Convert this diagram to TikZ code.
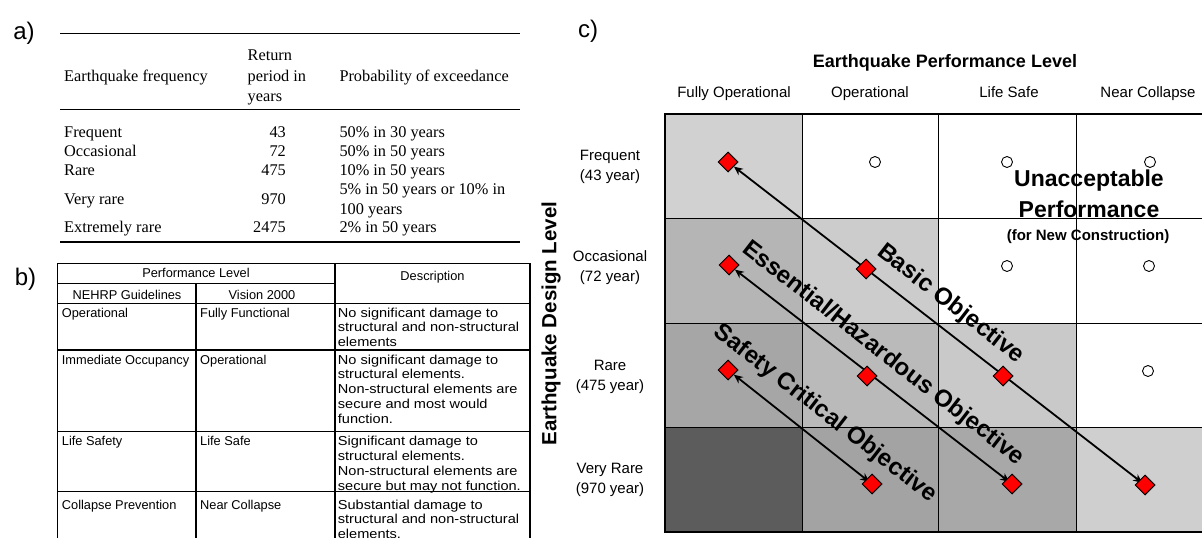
\documentclass[tikz,border=0pt]{standalone}
\usepackage{fontspec}
\setmainfont{Liberation Serif}
\newfontfamily\sansf{Liberation Sans}
\newfontfamily\descfont{Liberation Sans}[FakeStretch=1.12]
\usetikzlibrary{arrows.meta,shapes.geometric}
\pgfdeclarelayer{front}
\pgfsetlayers{main,front}
\begin{document}
\begin{tikzpicture}[x=1pt,y=-1pt,
  panel/.style={font=\sansf\fontsize{24}{26}\selectfont, inner sep=0},
  ta/.style={font=\fontsize{16.3}{19}\selectfont, inner sep=0, anchor=base west},
  tanum/.style={font=\fontsize{16.3}{19}\selectfont, inner sep=0, anchor=base east},
  tb/.style={font=\sansf\fontsize{12.8}{14.8}\selectfont, inner sep=0, anchor=base west},
  tbc/.style={font=\sansf\fontsize{12.8}{14.8}\selectfont, inner sep=0, anchor=base},
  tbd/.style={font=\descfont\fontsize{13}{14.8}\selectfont, inner sep=0, anchor=base west},
  rule/.style={line width=1.6pt},
  grid/.style={line width=0.9pt},
  colhead/.style={font=\sansf\fontsize{15}{18}\selectfont, inner sep=0, anchor=base},
  rowhead/.style={font=\sansf\fontsize{15}{20}\selectfont, inner sep=0, align=center},
  bigbold/.style={font=\sansf\bfseries\fontsize{23}{31}\selectfont, inner sep=0, align=center},
  objlbl/.style={font=\sansf\bfseries\fontsize{24}{26}\selectfont, inner sep=0, rotate=-37.8},
  diam/.style={diamond, draw=black, fill=red, line width=1pt, minimum width=20pt, minimum height=20pt, inner sep=0},
  circ/.style={circle, draw=black, line width=0.9pt, minimum size=11pt, inner sep=0},
  obj/.style={line width=1.8pt, shorten >=-4pt, {Stealth[length=9pt,width=8pt]}-{Stealth[length=9pt,width=8pt]}}
]
\clip (0,0) rectangle (1202,538);
\fill[white] (0,0) rectangle (1202,538);

% ---------------- panel a ----------------
\node[panel] (la) at (24,33) {a)};
\draw[rule] (60,33.5) -- (520,33.5);
\draw[line width=1pt] (60,109.3) -- (520,109.3);
\draw[rule] (60,241.8) -- (520,241.8);
\node[ta] (ha1) at (64,81) {Earthquake frequency};
\node[ta] (ha2) at (247.5,60.7) {Return};
\node[ta] (ha3) at (247.5,81) {period in};
\node[ta] (ha4) at (247.5,101) {years};
\node[ta] (ha5) at (339.3,81) {Probability of exceedance};
\node[ta] (fa1) at (64,137.5) {Frequent};
\node[ta] (fa2) at (64,156) {Occasional};
\node[ta] (fa3) at (64,175.3) {Rare};
\node[ta] (fa4) at (64,204.3) {Very rare};
\node[ta] (fa5) at (64,232.7) {Extremely rare};
\node[tanum] (na1) at (286,137.5) {43};
\node[tanum] (na2) at (286,156) {72};
\node[tanum] (na3) at (286,175.3) {475};
\node[tanum] (na4) at (286,204.3) {970};
\node[tanum] (na5) at (286,232.7) {2475};
\node[ta] (pa1) at (339.3,137.5) {50\% in 30 years};
\node[ta] (pa2) at (339.3,156) {50\% in 50 years};
\node[ta] (pa3) at (339.3,175.3) {10\% in 50 years};
\node[ta] (pa4) at (339.3,194) {5\% in 50 years or 10\% in};
\node[ta] (pa4b) at (339.3,214) {100 years};
\node[ta] (pa5) at (339.3,232.7) {2\% in 50 years};

% ---------------- panel b ----------------
\node[panel] (lb) at (25.5,279) {b)};
\draw[line width=1.3pt] (57.3,560) -- (57.3,263.3) -- (530,263.3) -- (530,560);
\draw[line width=1pt] (57.3,283.3) -- (335,283.3);
\draw[line width=1.2pt] (57.3,303.3) -- (530,303.3);
\draw[line width=1.2pt] (57.3,350) -- (530,350);
\draw[line width=1.2pt] (57.3,431.7) -- (530,431.7);
\draw[line width=1.2pt] (57.3,491.7) -- (530,491.7);
\draw[line width=1.3pt] (196,283.3) -- (196,560);
\draw[line width=1.3pt] (335,263.3) -- (335,560);
\node[tbc] (hb1) at (196,277.7) {Performance Level};
\node[tbc] (hb2) at (127,299) {NEHRP Guidelines};
\node[tbc] (hb3) at (262,299) {Vision 2000};
\node[tbc] (hb4) at (432.5,280) {Description};
\node[tb] (b1a) at (61.7,317) {Operational};
\node[tb] (b1b) at (200,317) {Fully Functional};
\node[tb] (b2a) at (61.7,364) {Immediate Occupancy};
\node[tb] (b2b) at (200,364) {Operational};
\node[tb] (b3a) at (61.7,445.7) {Life Safety};
\node[tb] (b3b) at (200,445.7) {Life Safe};
\node[tb] (b4a) at (61.7,509) {Collapse Prevention};
\node[tb] (b4b) at (200,509) {Near Collapse};
\foreach \t [count=\i] in {No significant damage to, structural and non-structural, elements}
  \node[tbd] (d1\i) at (337.7,{317+(\i-1)*14.8}) {\t};
\foreach \t [count=\i] in {No significant damage to, structural elements., Non-structural elements are, secure and most would, function.}
  \node[tbd] (d2\i) at (337.7,{364+(\i-1)*14.8}) {\t};
\foreach \t [count=\i] in {Significant damage to, structural elements., Non-structural elements are, secure but may not function.}
  \node[tbd] (d3\i) at (337.7,{445.7+(\i-1)*14.8}) {\t};
\foreach \t [count=\i] in {Substantial damage to, structural and non-structural, elements.}
  \node[tbd] (d4\i) at (337.7,{509+(\i-1)*14.8}) {\t};

% ---------------- panel c ----------------
\node[panel] (lc) at (588,31) {c)};
\node[font=\sansf\bfseries\fontsize{18}{20}\selectfont, inner sep=0] (tc) at (945,63) {Earthquake Performance Level};
\node[colhead] (c1) at (734,97) {Fully Operational};
\node[colhead] (c2) at (870,97) {Operational};
\node[colhead] (c3) at (1009,97) {Life Safe};
\node[colhead] (c4) at (1148,97) {Near Collapse};
\node[font=\sansf\bfseries\fontsize{20.5}{22}\selectfont, inner sep=0, rotate=90] (vl) at (551,323.5) {Earthquake Design Level};
\node[rowhead] (r1) at (610,167) {Frequent\\(43 year)};
\node[rowhead] (r2) at (610,268) {Occasional\\(72 year)};
\node[rowhead] (r3) at (610,377) {Rare\\(475 year)};
\node[rowhead] (r4) at (610,480) {Very Rare\\(970 year)};

% cell shading
\fill[white!82!black] (665,114) rectangle (802,218);
\fill[white!71!black] (665,218) rectangle (802,323);
\fill[white!80!black] (802,218) rectangle (938.5,323);
\fill[white!65!black] (665,323) rectangle (802,427);
\fill[white!73!black] (802,323) rectangle (938.5,427);
\fill[white!79!black] (938.5,323) rectangle (1076,427);
\fill[white!36!black] (665,427) rectangle (802,532);
\fill[white!64!black] (802,427) rectangle (938.5,532);
\fill[white!66!black] (938.5,427) rectangle (1076,532);
\fill[white!81!black] (1076,427) rectangle (1213,532);
% grid
\foreach \yy in {218,323,427} \draw[grid] (665,\yy) -- (1213,\yy);
\foreach \xx in {802,938.5,1076} \draw[grid] (\xx,114) -- (\xx,532);
\draw[line width=1.6pt] (1213,114) -- (665,114) -- (665,532) -- (1213,532);

% hollow circles
\node[circ] (o1) at (875,162) {};
\node[circ] (o2) at (1007,162) {};
\node[circ] (o3) at (1150,162) {};
\node[circ] (o4) at (1007,266) {};
\node[circ] (o5) at (1149,266) {};
\node[circ] (o6) at (1148,371) {};

% unacceptable text
\node[bigbold] (ua) at (1089,193.5) {Unacceptable\\Performance};
\node[font=\sansf\bfseries\fontsize{15}{17}\selectfont, inner sep=0] (nc) at (1088,237) {(for New Construction)};

% diamonds
\begin{pgfonlayer}{front}
\node[diam] (dA) at (728,162) {};
\node[diam] (dB) at (729,265) {};
\node[diam] (dC) at (866,269) {};
\node[diam] (dD) at (728,370) {};
\node[diam] (dE) at (867,376) {};
\node[diam] (dF) at (1003,376) {};
\node[diam] (dG) at (872,484) {};
\node[diam] (dH) at (1012,484) {};
\node[diam] (dI) at (1145,485) {};
\end{pgfonlayer}

% objective arrows
\draw[obj] (dA) -- (dI);
\draw[obj] (dB) -- (dH);
\draw[obj] (dD) -- (dG);

% objective labels
\node[objlbl] (ob1) at (950.5,304) {Basic Objective};
\node[objlbl] (ob2) at (883,353.5) {Essential/Hazardous Objective};
\node[objlbl] (ob3) at (825,413.5) {Safety Critical Objective};
\end{tikzpicture}
\end{document}
